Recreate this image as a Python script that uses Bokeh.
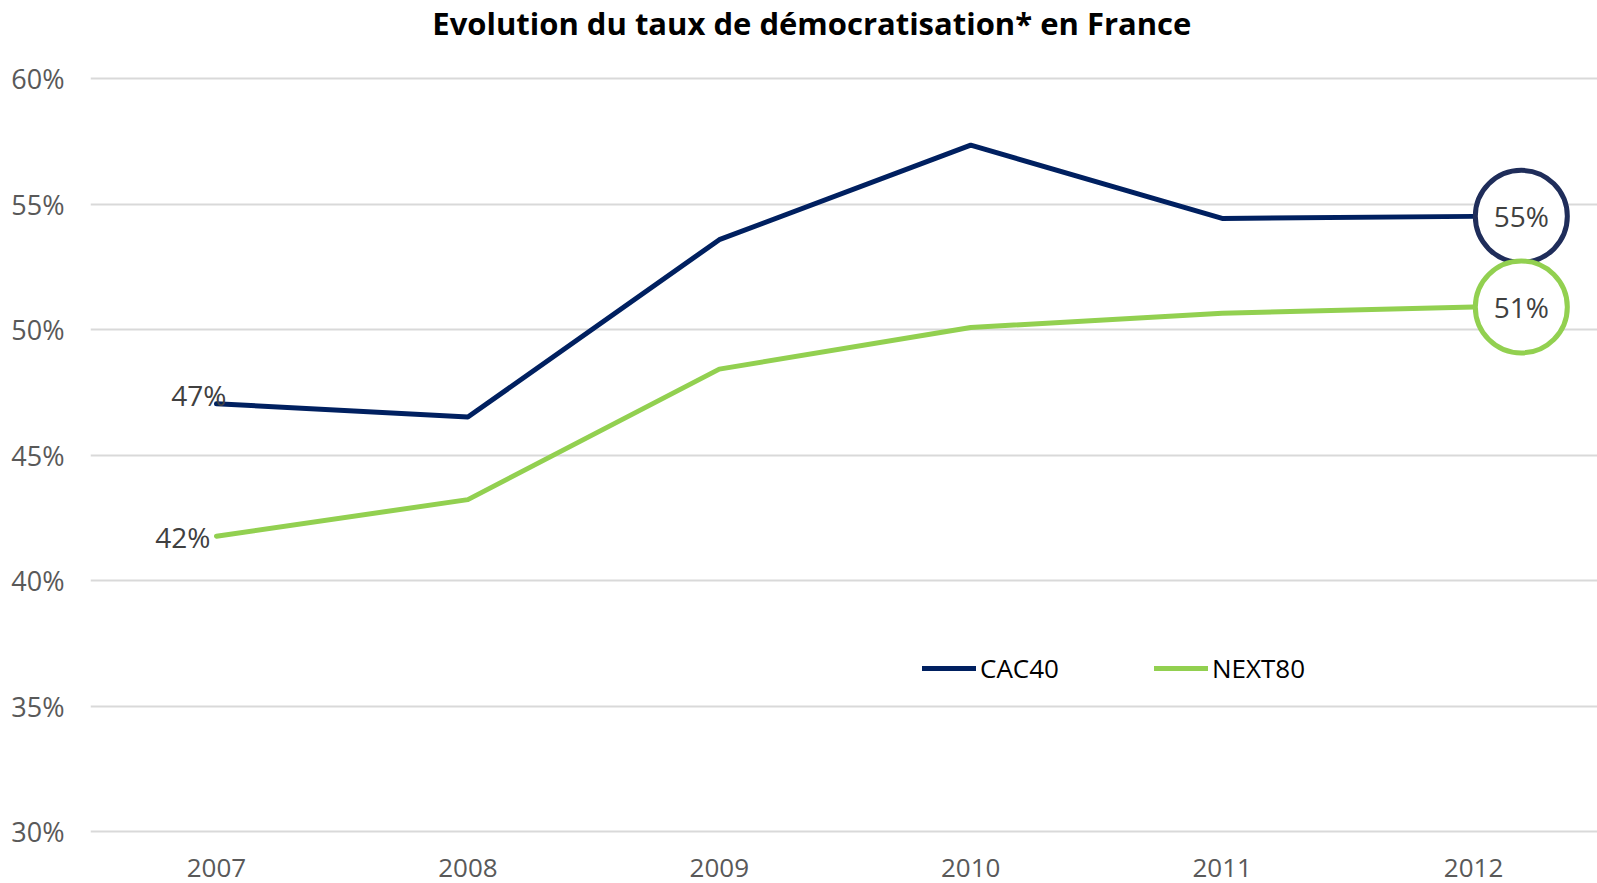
from bokeh.plotting import figure
from bokeh.models import Range1d, FixedTicker, NumeralTickFormatter, Legend, LegendItem
from bokeh.core.properties import value
from bokeh.embed import file_html
from bokeh.resources import INLINE

# ---- data ----
years = [2007, 2008, 2009, 2010, 2011, 2012]
year_labels = ["2007", "2008", "2009", "2010", "2011", "2012"]
cac40 = [0.4705, 0.4652, 0.5359, 0.5736, 0.5444, 0.5452]
next80 = [0.4177, 0.4323, 0.4843, 0.5009, 0.5066, 0.5091]
y_ticks = [0.30, 0.35, 0.40, 0.45, 0.50, 0.55, 0.60]
title_text = "Evolution du taux de démocratisation* en France"

NAVY = "#002060"
NAVY_CIRCLE = "#1F2D5A"
GREEN = "#92D050"
FONT = "Open Sans"

W, H = 1597, 883
PX = 752.6 / (y_ticks[-1] - y_ticks[0])       # pixels per unit on y
Y1 = y_ticks[-1] + 78.4 / PX                  # top of frame
Y0 = y_ticks[0] - (H - 831) / PX              # bottom of frame

p = figure(width=W, height=H, output_backend="svg", toolbar_location=None,
           x_range=Range1d(2006.499, 2012.493), y_range=Range1d(Y0, Y1),
           x_axis_location=None,
           min_border_left=90, min_border_right=0, min_border_bottom=0, min_border_top=0)
p.outline_line_color = None
p.background_fill_color = "white"

# y axis
p.yaxis.ticker = FixedTicker(ticks=y_ticks)
p.yaxis.formatter = NumeralTickFormatter(format="0%")
p.yaxis.axis_line_color = None
p.yaxis.major_tick_line_color = None
p.yaxis.minor_tick_line_color = None
p.yaxis.major_tick_out = 0
p.yaxis.major_tick_in = 0
p.yaxis.major_label_text_font = FONT
p.yaxis.major_label_text_color = "#595959"
p.yaxis.major_label_text_font_size = "27px"
p.yaxis.major_label_standoff = 26

p.xgrid.grid_line_color = None
p.ygrid.ticker = FixedTicker(ticks=y_ticks)
p.ygrid.grid_line_color = "#D9D9D9"
p.ygrid.grid_line_width = 2

# x category labels under the 30% line
p.text(years, [y_ticks[0] - 36 / PX] * len(years), text=year_labels, text_align="center",
       text_baseline="middle", text_font=value(FONT), text_font_size="26px",
       text_color="#595959")

# title
p.text([2009.368], [y_ticks[-1] + 56 / PX], text=[title_text], text_align="center",
       text_baseline="middle", text_font=value(FONT), text_font_size="31px",
       text_font_style="bold", text_color="#000000")

r1 = p.line(years, cac40, line_color=NAVY, line_width=5, line_join="round", line_cap="round")
r2 = p.line(years, next80, line_color=GREEN, line_width=5, line_join="round", line_cap="round")

# start labels
p.text([years[0]], [cac40[0]], text=[f"{round(cac40[0]*100)}%"], text_align="right",
       text_baseline="middle", x_offset=10, y_offset=-9,
       text_font=value(FONT), text_font_size="28px", text_color="#404040")
p.text([years[0]], [next80[0]], text=[f"{round(next80[0]*100)}%"], text_align="right",
       text_baseline="middle", x_offset=-6, y_offset=1,
       text_font=value(FONT), text_font_size="28px", text_color="#404040")

# end circles
cx = years[-1] + 0.19
for v, col in ((cac40[-1], NAVY_CIRCLE), (next80[-1], GREEN)):
    p.scatter([cx], [v], marker="circle", size=92, fill_color="white",
              line_color=col, line_width=5)
    p.text([cx], [v], text=[f"{round(v*100)}%"], text_align="center", text_baseline="middle",
           text_font=value(FONT), text_font_size="28px", text_color="#404040")

legend = Legend(items=[LegendItem(label="CAC40", renderers=[r1]),
                       LegendItem(label="NEXT80", renderers=[r2])],
                orientation="horizontal", location=(832, 197),
                glyph_width=54, glyph_height=30, label_height=30, label_standoff=4,
                spacing=95, padding=0, margin=0,
                label_text_font=FONT, label_text_font_size="26px", label_text_color="#000000",
                border_line_color=None, background_fill_alpha=0)
p.add_layout(legend, "center")

open("out.html", "w").write(file_html(p, INLINE))
